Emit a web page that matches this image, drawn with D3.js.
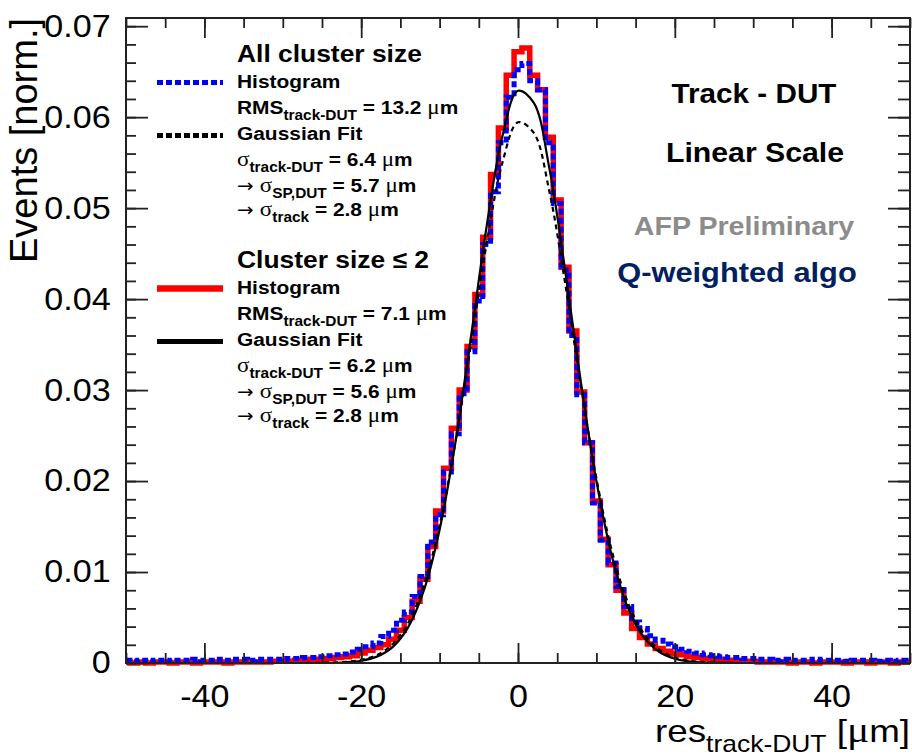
<!DOCTYPE html>
<html>
<head>
<meta charset="utf-8">
<script src="https://cdn.jsdelivr.net/npm/d3@7/dist/d3.min.js"></script>
<style>
  body { margin: 0; background: #fff; }
  svg text { font-family: "Liberation Sans", Arial, sans-serif; }
</style>
</head>
<body>
<div id="graphic"></div>
<script>
/*** DATA ***/
// histogram bins: 1 um wide, centres from -50 to 50
var binStart = -50, binEnd = 50, binWidth = 1;

// all cluster sizes (blue dotted)
var histAll = [
  0.0003, 0.0002, 0.0003, 0.0002, 0.0003, 0.0003, 0.0002, 0.0003, 0.0003, 0.0004,
  0.0003, 0.0003, 0.0004, 0.0003, 0.0004, 0.0004, 0.0003, 0.0004, 0.0004, 0.0004,
  0.0004, 0.0005, 0.0005, 0.0006, 0.0006, 0.0007, 0.0008, 0.0009, 0.0010, 0.0012,
  0.0015, 0.0018, 0.0022, 0.0029, 0.0036, 0.0047, 0.0056, 0.0073, 0.0095, 0.0133,
  0.0163, 0.0210, 0.0252, 0.0296, 0.0342, 0.0398, 0.0460, 0.0518, 0.0572, 0.0622,
  0.0652,
  0.0659, 0.0640, 0.0630, 0.0572, 0.0505, 0.0432, 0.0360, 0.0295, 0.0242, 0.0176,
  0.0135, 0.0110, 0.0084, 0.0062, 0.0045, 0.0038, 0.0030, 0.0025, 0.0021, 0.0018,
  0.0015, 0.0013, 0.0011, 0.0009, 0.0008, 0.0007, 0.0006, 0.0006, 0.0005, 0.0005,
  0.0004, 0.0004, 0.0003, 0.0004, 0.0003, 0.0003, 0.0003, 0.0004, 0.0003, 0.0003,
  0.0003, 0.0002, 0.0003, 0.0003, 0.0003, 0.0002, 0.0003, 0.0002, 0.0003, 0.0002
];

// cluster size <= 2 (red solid)
var histSmall = [
  0.0001, 0.0000, 0.0001, 0.0000, 0.0001, 0.0001, 0.0000, 0.0001, 0.0001, 0.0000,
  0.0001, 0.0001, 0.0001, 0.0000, 0.0001, 0.0001, 0.0001, 0.0001, 0.0001, 0.0002,
  0.0002, 0.0002, 0.0003, 0.0003, 0.0004, 0.0004, 0.0005, 0.0006, 0.0007, 0.0008,
  0.0011, 0.0014, 0.0017, 0.0020, 0.0026, 0.0036, 0.0050, 0.0068, 0.0092, 0.0128,
  0.0167, 0.0214, 0.0258, 0.0300, 0.0348, 0.0405, 0.0468, 0.0537, 0.0588, 0.0646,
  0.0672,
  0.0676, 0.0646, 0.0630, 0.0578, 0.0509, 0.0435, 0.0365, 0.0298, 0.0242, 0.0178,
  0.0136, 0.0108, 0.0080, 0.0055, 0.0038, 0.0028, 0.0021, 0.0016, 0.0013, 0.0010,
  0.0009, 0.0007, 0.0006, 0.0005, 0.0004, 0.0004, 0.0003, 0.0003, 0.0002, 0.0002,
  0.0001, 0.0001, 0.0001, 0.0001, 0.0000, 0.0001, 0.0001, 0.0000, 0.0001, 0.0001,
  0.0001, 0.0000, 0.0001, 0.0001, 0.0000, 0.0001, 0.0001, 0.0000, 0.0001, 0.0001
];

// gaussian fit curves, read every 2 um from -50 to 50
var fitStart = -50, fitStep = 2;
var fitAll = [
  0, 0, 0, 0, 0, 0, 0, 0, 0, 0, 0, 0,
  0.00001, 0.00004, 0.00012, 0.00034, 0.00087, 0.00207, 0.00442, 0.00859, 0.01514,
  0.02419, 0.03508, 0.04611, 0.05497, 0.05944, 0.05829, 0.05184, 0.04182, 0.03060,
  0.02030, 0.01222, 0.00667, 0.00330, 0.00148, 0.00060, 0.00022, 0.00007, 0.00002,
  0, 0, 0, 0, 0, 0, 0, 0, 0, 0, 0, 0
];
var fitSmall = [
  0, 0, 0, 0, 0, 0, 0, 0, 0, 0, 0, 0,
  0.00000, 0.00002, 0.00008, 0.00025, 0.00070, 0.00175, 0.00395, 0.00800, 0.01465,
  0.02414, 0.03587, 0.04800, 0.05788, 0.06290, 0.06160, 0.05438, 0.04325, 0.03100,
  0.02000, 0.01166, 0.00611, 0.00289, 0.00123, 0.00047, 0.00016, 0.00005, 0.00001,
  0, 0, 0, 0, 0, 0, 0, 0, 0, 0, 0, 0
];

var xMajorTicks = [-40, -20, 0, 20, 40];
var yMajorTicks = [0, 0.01, 0.02, 0.03, 0.04, 0.05, 0.06, 0.07];

var legendBlocks = [
  { title: "All cluster size", rms: "13.2", sigma: "6.4", sp: "5.7", track: "2.8", hist: "blueDot", fit: "blackDot" },
  { title: "Cluster size \u2264 2", rms: "7.1", sigma: "6.2", sp: "5.6", track: "2.8", hist: "redLine", fit: "blackLine" }
];

/*** LAYOUT ***/
var W = 912, H = 756;
var margin = { top: 18, left: 126, right: 2, bottom: 93 },
    width = W - margin.left - margin.right,
    height = H - margin.top - margin.bottom;
var sx = 1.1;   // the original picture is slightly stretched horizontally

var blue = "#0000ff", red = "#ff0000";

var svg = d3.select("#graphic").append("svg")
  .attr("width", W).attr("height", H);

var g = svg.append("g")
  .attr("transform", "translate(" + margin.left + "," + margin.top + ")");

/*** SCALES ***/
var x = d3.scaleLinear().domain([-50, 50]).range([0, width]);
var y = d3.scaleLinear().domain([0, 0.0709]).range([height, 0]);

svg.append("defs").append("clipPath").attr("id", "plotClip")
  .append("rect").attr("x", 0).attr("y", 0).attr("width", width).attr("height", height + 4);

/*** HISTOGRAMS + FITS ***/
var centres = d3.range(binStart, binEnd + binWidth, binWidth);
var fitX = d3.range(fitStart, 50 + fitStep, fitStep);

var histLine = d3.line()
  .x(function(d) { return x(d[0]); })
  .y(function(d) { return y(d[1]); })
  .curve(d3.curveStep);

var fitLine = d3.line()
  .x(function(d) { return x(d[0]); })
  .y(function(d) { return y(Math.max(d[1], 0)); })
  .curve(d3.curveCatmullRom);

var plot = g.append("g").attr("clip-path", "url(#plotClip)");

plot.append("path")
  .attr("d", histLine(centres.map(function(c, i) { return [c, histSmall[i]]; })))
  .attr("fill", "none").attr("stroke", red).attr("stroke-width", 5.5);

plot.append("path")
  .attr("d", histLine(centres.map(function(c, i) { return [c, histAll[i]]; })))
  .attr("fill", "none").attr("stroke", blue).attr("stroke-width", 5)
  .attr("stroke-dasharray", "6,3");

plot.append("path")
  .attr("d", fitLine(fitX.map(function(c, i) { return [c, fitSmall[i]]; })))
  .attr("fill", "none").attr("stroke", "#000").attr("stroke-width", 2.2);

plot.append("path")
  .attr("d", fitLine(fitX.map(function(c, i) { return [c, fitAll[i]]; })))
  .attr("fill", "none").attr("stroke", "#000").attr("stroke-width", 2.2)
  .attr("stroke-dasharray", "5,4");

/*** AXES (ROOT style, ticks inward on all four sides) ***/
var axisColor = "#222";
var xMinor = d3.range(-50, 51, 5);
var yMinor = d3.range(0, 0.0709, 0.002);

function styleAxis(sel) {
  sel.selectAll("path.domain").remove();
  sel.selectAll(".tick line").attr("stroke", axisColor).attr("stroke-width", 1.8);
}

g.append("g").attr("transform", "translate(0," + height + ")")
  .call(d3.axisBottom(x).tickValues(xMinor).tickSize(-10).tickFormat(""))
  .call(styleAxis);
g.append("g").attr("transform", "translate(0," + height + ")")
  .call(d3.axisBottom(x).tickValues(xMajorTicks).tickSize(-20).tickPadding(22)
    .tickFormat(function(d) { return String(d); }))
  .call(styleAxis)
  .call(function(a) {
    a.selectAll("text").attr("font-size", 31).attr("fill", "#000")
      .attr("font-family", "Liberation Sans, Arial, sans-serif")
      .attr("transform", "scale(" + sx + ",1)");
  });

g.append("g")
  .call(d3.axisTop(x).tickValues(xMinor).tickSize(-10).tickFormat(""))
  .call(styleAxis);
g.append("g")
  .call(d3.axisTop(x).tickValues(xMajorTicks).tickSize(-20).tickFormat(""))
  .call(styleAxis);

g.append("g")
  .call(d3.axisLeft(y).tickValues(yMinor).tickSize(-10).tickFormat(""))
  .call(styleAxis);
g.append("g")
  .call(d3.axisLeft(y).tickValues(yMajorTicks).tickSize(-22).tickPadding(14)
    .tickFormat(function(d) { return d === 0 ? "0" : d3.format(".2f")(d); }))
  .call(styleAxis)
  .call(function(a) {
    a.selectAll("text").attr("font-size", 31).attr("fill", "#000")
      .attr("font-family", "Liberation Sans, Arial, sans-serif")
      .attr("transform", "scale(" + sx + ",1)");
  });

g.append("g").attr("transform", "translate(" + width + ",0)")
  .call(d3.axisRight(y).tickValues(yMinor).tickSize(-12).tickFormat(""))
  .call(styleAxis);
g.append("g").attr("transform", "translate(" + width + ",0)")
  .call(d3.axisRight(y).tickValues(yMajorTicks).tickSize(-22).tickFormat(""))
  .call(styleAxis);

g.append("rect")
  .attr("x", 0).attr("y", 0).attr("width", width).attr("height", height)
  .attr("fill", "none").attr("stroke", axisColor).attr("stroke-width", 2);

/*** RICH TEXT HELPER (subscripts, greek symbols) ***/
function rich(parent, px, py, parts, size, opts) {
  opts = opts || {};
  var t = parent.append("text")
    .attr("transform", "translate(" + px + "," + py + ") scale(" + (opts.sx || sx) + ",1)")
    .attr("font-size", size)
    .attr("font-weight", opts.weight || "bold")
    .attr("fill", opts.fill || "#000")
    .attr("text-anchor", opts.anchor || "start");
  var off = 0;
  parts.forEach(function(p) {
    if (typeof p === "string") p = { t: p };
    var target = p.sub ? size * 0.32 : 0;
    var ts = t.append("tspan").attr("dy", target - off).text(p.t);
    off = target;
    if (p.sub) ts.attr("font-size", Math.round(size * 0.72));
    if (p.greek) ts.attr("font-family", "Liberation Serif, serif").attr("font-weight", "normal")
      .attr("font-size", Math.round(size * 1.12));
    if (p.arrow) ts.attr("font-family", "DejaVu Sans, sans-serif").attr("font-weight", "normal")
      .attr("font-size", Math.round(size * 0.95));
  });
  return t;
}

/*** LEGEND ***/
var legend = svg.append("g");
var rowY = [0, 25.5, 52, 77.5, 103.5, 130, 153.5];
var blockTop = [62, 268];
var textX = 237, sampleX1 = 157, sampleX2 = 223;

legendBlocks.forEach(function(b, i) {
  var y0 = blockTop[i];
  rich(legend, textX, y0 + rowY[0], [b.title], 24);
  rich(legend, textX, y0 + rowY[1], ["Histogram"], 19);
  rich(legend, textX, y0 + rowY[2], ["RMS", { t: "track-DUT", sub: true }, " = " + b.rms + " ", { t: "\u03bc", greek: true }, "m"], 19);
  rich(legend, textX, y0 + rowY[3], ["Gaussian Fit"], 19);
  rich(legend, textX, y0 + rowY[4], [{ t: "\u03c3", greek: true }, { t: "track-DUT", sub: true }, " = " + b.sigma + " ", { t: "\u03bc", greek: true }, "m"], 19);
  rich(legend, textX, y0 + rowY[5], [{ t: "\u2192 ", arrow: true }, { t: "\u03c3", greek: true }, { t: "SP,DUT", sub: true }, " = " + b.sp + " ", { t: "\u03bc", greek: true }, "m"], 19);
  rich(legend, textX, y0 + rowY[6], [{ t: "\u2192 ", arrow: true }, { t: "\u03c3", greek: true }, { t: "track", sub: true }, " = " + b.track + " ", { t: "\u03bc", greek: true }, "m"], 19);

  var hy = y0 + rowY[1] - 5, fy = y0 + rowY[3] - 4;
  var hist = legend.append("line").attr("x1", sampleX1).attr("x2", sampleX2)
    .attr("y1", hy).attr("y2", hy);
  var fit = legend.append("line").attr("x1", sampleX1).attr("x2", sampleX2)
    .attr("y1", fy).attr("y2", fy);
  if (b.hist === "blueDot") {
    hist.attr("stroke", blue).attr("stroke-width", 5).attr("stroke-dasharray", "6,3");
    fit.attr("stroke", "#000").attr("stroke-width", 5).attr("stroke-dasharray", "6,3");
  } else {
    hist.attr("stroke", red).attr("stroke-width", 6.5);
    fit.attr("stroke", "#000").attr("stroke-width", 5);
  }
});

/*** LABELS ON THE RIGHT ***/
rich(svg, 754, 103, ["Track - DUT"], 28, { anchor: "middle", sx: 1.06 });
rich(svg, 755, 162, ["Linear Scale"], 28, { anchor: "middle", sx: 1.08 });
rich(svg, 744, 235, ["AFP Preliminary"], 26, { anchor: "middle", fill: "#8c8c8c" });
rich(svg, 737, 282, ["Q-weighted algo"], 28, { anchor: "middle", fill: "#002060" });

/*** AXIS TITLES ***/
rich(svg, 910, 742, ["res", { t: "track-DUT", sub: true }, " [", { t: "\u03bc", greek: true }, "m]"], 32,
  { anchor: "end", weight: "normal", sx: 1.15 });

svg.append("text")
  .attr("transform", "translate(37,18) rotate(-90)")
  .attr("text-anchor", "end")
  .attr("font-size", 38)
  .text("Events [norm.]");
</script>
</body>
</html>
